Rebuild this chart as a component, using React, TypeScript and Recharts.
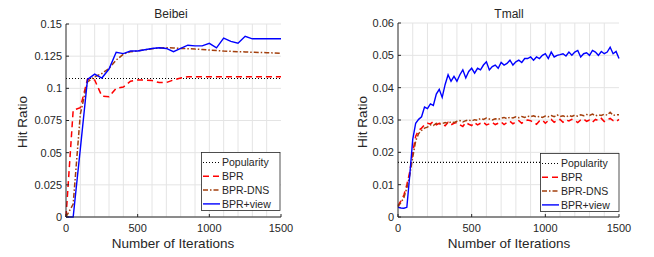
import React from 'react';
import { LineChart, Line, XAxis, YAxis, CartesianGrid, ReferenceLine, Legend } from 'recharts';

// Beibei, sampled every 50 iterations
const beibeiIters = [0, 50, 100, 150, 200, 250, 300, 350, 400, 450, 500, 550, 600, 650, 700, 750, 800, 850, 900, 950, 1000, 1050, 1100, 1150, 1200, 1250, 1300, 1350, 1400, 1450, 1500];
const beibeiBPR = [0, 0.083, 0.085, 0.107, 0.1065, 0.094, 0.0935, 0.1, 0.101, 0.1055, 0.1065, 0.1065, 0.106, 0.1045, 0.1045, 0.1065, 0.108, 0.109, 0.109, 0.109, 0.109, 0.109, 0.109, 0.109, 0.109, 0.109, 0.109, 0.109, 0.109, 0.109, 0.109];
const beibeiDNS = [0, 0.01, 0.08, 0.105, 0.109, 0.1115, 0.1155, 0.122, 0.1265, 0.1285, 0.129, 0.13, 0.1308, 0.1313, 0.1316, 0.1314, 0.131, 0.1308, 0.1305, 0.1302, 0.1298, 0.1294, 0.129, 0.1288, 0.1285, 0.1283, 0.128, 0.1279, 0.1277, 0.1275, 0.1272];
const beibeiView = [0, 0, 0.053, 0.107, 0.111, 0.108, 0.115, 0.128, 0.127, 0.129, 0.129, 0.13, 0.131, 0.1315, 0.131, 0.1285, 0.131, 0.1335, 0.133, 0.133, 0.135, 0.1315, 0.139, 0.1365, 0.135, 0.1405, 0.1385, 0.1385, 0.1385, 0.1385, 0.1385];
const beibeiPopularity = 0.1077;
const beibeiYTicks = [0, 0.025, 0.05, 0.075, 0.1, 0.125, 0.15];

// Tmall, sampled every 20 iterations
const tmallIters = [0, 20, 40, 60, 80, 100, 120, 140, 160, 180, 200, 220, 240, 260, 280, 300, 320, 340, 360, 380, 400, 420, 440, 460, 480, 500, 520, 540, 560, 580, 600, 620, 640, 660, 680, 700, 720, 740, 760, 780, 800, 820, 840, 860, 880, 900, 920, 940, 960, 980, 1000, 1020, 1040, 1060, 1080, 1100, 1120, 1140, 1160, 1180, 1200, 1220, 1240, 1260, 1280, 1300, 1320, 1340, 1360, 1380, 1400, 1420, 1440, 1460, 1480, 1500];
const tmallBPR = [0.0035, 0.005, 0.0068, 0.01, 0.014, 0.02, 0.025, 0.0268, 0.0275, 0.0285, 0.029, 0.0288, 0.0295, 0.0285, 0.029, 0.0288, 0.0282, 0.0293, 0.0285, 0.029, 0.0292, 0.0285, 0.028, 0.0292, 0.0287, 0.0283, 0.0292, 0.0285, 0.029, 0.0293, 0.0285, 0.0288, 0.0292, 0.0286, 0.029, 0.0294, 0.0286, 0.0292, 0.0296, 0.0288, 0.0295, 0.0298, 0.029, 0.0296, 0.03, 0.0298, 0.0292, 0.0287, 0.0297, 0.03, 0.029, 0.0298, 0.0302, 0.0293, 0.0298, 0.0302, 0.0293, 0.03, 0.0297, 0.0302, 0.0298, 0.0292, 0.03, 0.0303, 0.0296, 0.03, 0.0293, 0.0302, 0.0298, 0.0305, 0.0295, 0.03, 0.0305, 0.0298, 0.0295, 0.0302];
const tmallDNS = [0.0032, 0.0045, 0.006, 0.009, 0.013, 0.0185, 0.0235, 0.0258, 0.0268, 0.0275, 0.0278, 0.0285, 0.0283, 0.029, 0.0287, 0.0289, 0.0292, 0.029, 0.0294, 0.0292, 0.0296, 0.0298, 0.0294, 0.0298, 0.03, 0.0297, 0.0301, 0.0299, 0.0305, 0.0302, 0.0306, 0.0303, 0.03, 0.0304, 0.0302, 0.0306, 0.0308, 0.0304, 0.0309, 0.0306, 0.031, 0.0307, 0.0311, 0.0308, 0.0312, 0.031, 0.0313, 0.0309, 0.0311, 0.0308, 0.0312, 0.031, 0.0314, 0.031, 0.0316, 0.0311, 0.0313, 0.0309, 0.0314, 0.0311, 0.0315, 0.0312, 0.0316, 0.0313, 0.0317, 0.0314, 0.0318, 0.0313, 0.0316, 0.0314, 0.0318, 0.0315, 0.0324, 0.0314, 0.0316, 0.0316];
const tmallView = [0.003, 0.0028, 0.0027, 0.003, 0.013, 0.024, 0.029, 0.0302, 0.031, 0.034, 0.0335, 0.035, 0.0345, 0.038, 0.0395, 0.037, 0.041, 0.044, 0.042, 0.0435, 0.042, 0.044, 0.0455, 0.043, 0.045, 0.046, 0.0445, 0.046, 0.0455, 0.047, 0.048, 0.0455, 0.0465, 0.047, 0.046, 0.0478, 0.047, 0.0475, 0.0485, 0.047, 0.048, 0.0485, 0.0478, 0.049, 0.049, 0.0495, 0.0485, 0.0495, 0.049, 0.05, 0.0505, 0.049, 0.051, 0.0495, 0.05, 0.0502, 0.0505, 0.0498, 0.051, 0.05, 0.051, 0.0515, 0.0495, 0.0505, 0.0508, 0.05, 0.0515, 0.051, 0.05, 0.0512, 0.0505, 0.051, 0.0525, 0.0505, 0.0512, 0.049];
const tmallPopularity = 0.0169;
const tmallYTicks = [0, 0.01, 0.02, 0.03, 0.04, 0.05, 0.06];

const xTicks = [0, 500, 1000, 1500];
const gridIters = [100, 200, 300, 400, 500, 600, 700, 800, 900, 1000, 1100, 1200, 1300, 1400];

const FONT = '"Liberation Sans", Arial, Helvetica, sans-serif';
const INK = '#262626';
const GRID = '#e4e4e4';

const seriesStyle = [
  { name: 'Popularity', color: '#000000', dash: '1 2', width: 1.1 },
  { name: 'BPR', color: '#ff0000', dash: '6 4', width: 1.5 },
  { name: 'BPR-DNS', color: '#a33f0c', dash: '5 2 1.5 2', width: 1.5 },
  { name: 'BPR+view', color: '#0000ff', dash: undefined, width: 1.4 },
];

const LegendBox = () => (
  <svg width={80} height={59} style={{ display: 'block' }}>
    <rect x={0.5} y={0.5} width={78.5} height={58} fill="#fff" stroke={INK} strokeWidth={0.8} />
    {seriesStyle.map((s, i) => {
      const y = 10.5 + i * 13.8;
      return (
        <g key={s.name}>
          <line x1={2} x2={19} y1={y} y2={y} stroke={s.color} strokeWidth={s.width} strokeDasharray={s.dash} />
          <text x={21} y={y + 3.7} fontSize={10.5} fill={INK} fontFamily={FONT}>{s.name}</text>
        </g>
      );
    })}
  </svg>
);

type PanelProps = {
  x: number;
  title: string;
  iters: number[];
  bpr: number[];
  dns: number[];
  view: number[];
  popularity: number;
  yTicks: number[];
  margin: { top: number; right: number; bottom: number; left: number };
  yWidth: number;
  legendPos: { left: number; top: number };
  titleX: number;
  yLabelX: number;
  xLabelX: number;
};

function Panel(p: PanelProps) {
  const rows = p.iters.map((it, i) => ({ iter: it, bpr: p.bpr[i], dns: p.dns[i], view: p.view[i] }));
  const yMax = p.yTicks[p.yTicks.length - 1];
  const tickStyle = { fontSize: 11, fill: INK, fontFamily: FONT };
  return (
    <div style={{ position: 'absolute', left: p.x, top: 0, width: 327, height: 257 }}>
      <LineChart width={327} height={257} data={rows} margin={p.margin}>
        <CartesianGrid vertical={false} stroke={GRID} strokeWidth={1} />
        {gridIters.map((g) => (
          <ReferenceLine key={g} x={g} stroke={GRID} strokeWidth={1} />
        ))}
        <XAxis dataKey="iter" type="number" domain={[0, 1500]} ticks={xTicks} height={40}
          tickSize={-3} tickMargin={10} stroke={INK} tick={tickStyle} tickLine={{ stroke: INK }} />
        <XAxis xAxisId="top" orientation="top" type="number" domain={[0, 1500]} ticks={xTicks} height={0}
          tickSize={-3} stroke={INK} tickFormatter={() => ''} tickLine={{ stroke: INK }} />
        <YAxis type="number" domain={[0, yMax]} ticks={p.yTicks} width={p.yWidth}
          tickSize={-3} tickMargin={7} stroke={INK} tick={tickStyle} tickLine={{ stroke: INK }} />
        <YAxis yAxisId="r" orientation="right" type="number" domain={[0, yMax]} ticks={p.yTicks} width={0}
          tickSize={-3} stroke={INK} tickFormatter={() => ''} tickLine={{ stroke: INK }} />
        <ReferenceLine y={p.popularity} stroke={seriesStyle[0].color} strokeDasharray={seriesStyle[0].dash} strokeWidth={seriesStyle[0].width} />
        <Line type="linear" dataKey="bpr" name="BPR" stroke={seriesStyle[1].color} strokeWidth={seriesStyle[1].width}
          strokeDasharray={seriesStyle[1].dash} dot={false} activeDot={false} isAnimationActive={false} />
        <Line type="linear" dataKey="dns" name="BPR-DNS" stroke={seriesStyle[2].color} strokeWidth={seriesStyle[2].width}
          strokeDasharray={seriesStyle[2].dash} dot={false} activeDot={false} isAnimationActive={false} />
        <Line type="linear" dataKey="view" name="BPR+view" stroke={seriesStyle[3].color} strokeWidth={seriesStyle[3].width}
          dot={false} activeDot={false} isAnimationActive={false} />
        <Legend layout="vertical" align="center" verticalAlign="middle" content={() => <LegendBox />}
          wrapperStyle={{ left: p.legendPos.left, top: p.legendPos.top, width: 80, height: 59 }} />
      </LineChart>
      <svg width={327} height={257} style={{ position: 'absolute', left: 0, top: 0, pointerEvents: 'none' }}>
        <text x={p.titleX} y={18} textAnchor="middle" fontSize={12} fill={INK} fontFamily={FONT}>{p.title}</text>
        <text transform={`translate(${p.yLabelX},122) rotate(-90)`} textAnchor="middle" fontSize={13.5} fill={INK} fontFamily={FONT}>Hit Ratio</text>
        <text x={p.xLabelX} y={248} textAnchor="middle" fontSize={13.5} fill={INK} fontFamily={FONT}>Number of Iterations</text>
      </svg>
    </div>
  );
}

export default function App() {
  return (
    <div style={{ position: 'absolute', left: 0, top: 0, width: 654, height: 257, background: '#fff', overflow: 'hidden' }}>
      <Panel x={0} title="Beibei" iters={beibeiIters} bpr={beibeiBPR} dns={beibeiDNS} view={beibeiView}
        popularity={beibeiPopularity} yTicks={beibeiYTicks}
        margin={{ top: 24, right: 46, bottom: 0, left: 0 }} yWidth={66}
        legendPos={{ left: 201, top: 152 }} titleX={171} yLabelX={27} xLabelX={173} />
      <Panel x={327} title="Tmall" iters={tmallIters} bpr={tmallBPR} dns={tmallDNS} view={tmallView}
        popularity={tmallPopularity} yTicks={tmallYTicks}
        margin={{ top: 23, right: 35, bottom: 0, left: 0 }} yWidth={71}
        legendPos={{ left: 213, top: 153 }} titleX={182} yLabelX={40} xLabelX={182} />
    </div>
  );
}
